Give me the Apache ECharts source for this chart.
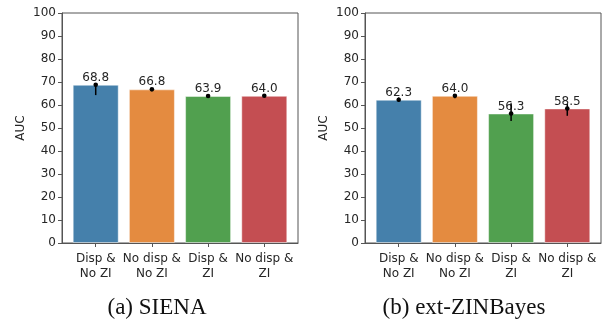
<!DOCTYPE html>
<html lang="en">
<head>
    <meta charset="UTF-8">
    <title>AUC per model variant</title>
    <script src="https://cdn.jsdelivr.net/npm/echarts@6/dist/echarts.min.js"></script>
    <style>
        body { margin: 0; padding: 0; background: #ffffff; }
        #chart { width: 603px; height: 322px; }
    </style>
</head>
<body>
    <div id="chart"></div>
    <script>
        // categories and values
        const categories = ['Disp &\nNo ZI', 'No disp &\nNo ZI', 'Disp &\nZI', 'No disp &\nZI'];
        const barColors = ['#4580ab', '#e48b40', '#51a04f', '#c44e52'];

        const sienaAuc = [68.8, 66.8, 63.9, 64.0];
        const sienaLow = [64.3, 66.5, 63.6, 63.7];
        const sienaHigh = [69.5, 67.1, 64.2, 64.3];

        const zinbAuc = [62.3, 64.0, 56.3, 58.5];
        const zinbLow = [61.4, 62.9, 53.0, 55.3];
        const zinbHigh = [63.3, 64.8, 60.8, 60.4];

        const captions = ['(a) SIENA', '(b) ext-ZINBayes'];

        const tickPos = categories.map((c, i) => i);
        const textColor = '#262626';
        const frameColor = '#555555';

        function xAxisFor(gridIndex) {
            return {
                type: 'value',
                gridIndex: gridIndex,
                min: -0.6,
                max: 3.6,
                splitLine: { show: false },
                axisLine: { show: true, onZero: false, lineStyle: { color: frameColor } },
                axisTick: { show: true, customValues: tickPos, length: 4, lineStyle: { color: frameColor } },
                axisLabel: {
                    customValues: tickPos,
                    formatter: v => categories[Math.round(v)],
                    fontFamily: 'DejaVu Sans',
                    fontSize: 12,
                    lineHeight: 15,
                    color: textColor,
                    margin: 8
                }
            };
        }

        function yAxisFor(gridIndex) {
            return {
                type: 'value',
                gridIndex: gridIndex,
                min: 0,
                max: 100,
                interval: 10,
                splitLine: { show: false },
                axisLine: { show: true, onZero: false, lineStyle: { color: frameColor } },
                axisTick: { show: true, length: 4, lineStyle: { color: frameColor } },
                axisLabel: { fontFamily: 'DejaVu Sans', fontSize: 12, color: textColor, margin: 6 },
                name: 'AUC',
                nameLocation: 'middle',
                nameGap: 35,
                nameTextStyle: { fontFamily: 'DejaVu Sans', fontSize: 12, color: textColor }
            };
        }

        function barSeries(idx, values) {
            return {
                type: 'bar',
                xAxisIndex: idx,
                yAxisIndex: idx,
                barWidth: 46,
                data: values.map((v, i) => ({
                    value: [i, v],
                    itemStyle: { color: barColors[i] }
                })),
                itemStyle: { borderColor: 'rgba(255,255,255,0.45)', borderWidth: 1 },
                label: {
                    show: true,
                    position: 'top',
                    distance: 1,
                    formatter: p => p.value[1].toFixed(1),
                    fontFamily: 'DejaVu Sans',
                    fontSize: 12,
                    color: textColor
                },
                z: 2
            };
        }

        function errorSeries(idx, values, low, high) {
            return {
                type: 'custom',
                xAxisIndex: idx,
                yAxisIndex: idx,
                data: values.map((v, i) => [i, v, low[i], high[i]]),
                renderItem: function (params, api) {
                    const mid = api.coord([api.value(0), api.value(1)]);
                    const lo = api.coord([api.value(0), api.value(2)]);
                    const hi = api.coord([api.value(0), api.value(3)]);
                    return {
                        type: 'group',
                        children: [
                            {
                                type: 'line',
                                shape: { x1: lo[0], y1: lo[1], x2: hi[0], y2: hi[1] },
                                style: { stroke: '#000', lineWidth: 1.5 }
                            },
                            {
                                type: 'circle',
                                shape: { cx: mid[0], cy: mid[1], r: 2.3 },
                                style: { fill: '#000' }
                            }
                        ]
                    };
                },
                z: 3
            };
        }

        const chart = echarts.init(document.getElementById('chart'));
        chart.setOption({
            animation: false,
            grid: [
                { left: 62, right: 305, top: 13, bottom: 79, show: true, borderColor: frameColor, borderWidth: 1, backgroundColor: '#fff' },
                { left: 365, right: 2, top: 13, bottom: 79, show: true, borderColor: frameColor, borderWidth: 1, backgroundColor: '#fff' }
            ],
            xAxis: [xAxisFor(0), xAxisFor(1)],
            yAxis: [yAxisFor(0), yAxisFor(1)],
            series: [
                barSeries(0, sienaAuc),
                errorSeries(0, sienaAuc, sienaLow, sienaHigh),
                barSeries(1, zinbAuc),
                errorSeries(1, zinbAuc, zinbLow, zinbHigh)
            ],
            graphic: [
                {
                    type: 'text', x: 157, y: 308,
                    style: { text: captions[0], align: 'center', verticalAlign: 'middle', font: '23px "Liberation Serif"', fill: '#111' }
                },
                {
                    type: 'text', x: 464, y: 308,
                    style: { text: captions[1], align: 'center', verticalAlign: 'middle', font: '23px "Liberation Serif"', fill: '#111' }
                }
            ]
        });
    </script>
</body>
</html>
